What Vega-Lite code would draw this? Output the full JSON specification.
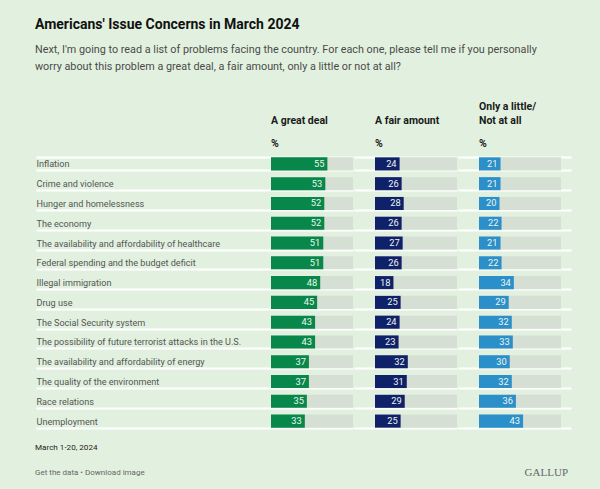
{
  "$schema": "https://vega.github.io/schema/vega-lite/v6.json",
  "background": "#e2f1df",
  "padding": {"top": 17, "left": 35, "right": 32, "bottom": 12},
  "config": {
    "view": {"stroke": null},
    "font": "Roboto"
  },
  "title": {
    "text": "Americans' Issue Concerns in March 2024",
    "subtitle": ["Next, I'm going to read a list of problems facing the country. For each one, please tell me if you personally", "worry about this problem a great deal, a fair amount, only a little or not at all?"],
    "anchor": "start",
    "fontSize": 14,
    "fontWeight": "bold",
    "color": "#111111",
    "subtitleFontSize": 10.8,
    "subtitleColor": "#4a4a4a",
    "subtitleLineHeight": 17,
    "subtitlePadding": 12,
    "offset": 30.5
  },
  "datasets": {
    "issues": [
      {"issue": "Inflation", "great": 55, "fair": 24, "little": 21},
      {"issue": "Crime and violence", "great": 53, "fair": 26, "little": 21},
      {"issue": "Hunger and homelessness", "great": 52, "fair": 28, "little": 20},
      {"issue": "The economy", "great": 52, "fair": 26, "little": 22},
      {"issue": "The availability and affordability of healthcare", "great": 51, "fair": 27, "little": 21},
      {"issue": "Federal spending and the budget deficit", "great": 51, "fair": 26, "little": 22},
      {"issue": "Illegal immigration", "great": 48, "fair": 18, "little": 34},
      {"issue": "Drug use", "great": 45, "fair": 25, "little": 29},
      {"issue": "The Social Security system", "great": 43, "fair": 24, "little": 32},
      {"issue": "The possibility of future terrorist attacks in the U.S.", "great": 43, "fair": 23, "little": 33},
      {"issue": "The availability and affordability of energy", "great": 37, "fair": 32, "little": 30},
      {"issue": "The quality of the environment", "great": 37, "fair": 31, "little": 32},
      {"issue": "Race relations", "great": 35, "fair": 29, "little": 36},
      {"issue": "Unemployment", "great": 33, "fair": 25, "little": 43}
    ]
  },
  "vconcat": [
    {
      "spacing": 0,
      "title": {"text": "March 1-20, 2024", "subtitle": "Get the data • Download image", "orient": "bottom", "anchor": "start", "frame": "bounds", "fontSize": 8.1, "fontWeight": "normal", "color": "#222222", "subtitleFontSize": 8, "subtitleColor": "#666666", "subtitlePadding": 17.2, "offset": -33},
      "hconcat": [
        {
          "width": 82,
          "height": 277,
          "data": {"name": "issues"},
          "title": {"text": "A great deal", "subtitle": "%", "anchor": "start", "frame": "group", "fontSize": 10.5, "fontWeight": "bold", "color": "#1a1a1a", "lineHeight": 13.5, "subtitleFontSize": 10.5, "subtitleFontWeight": "bold", "subtitleColor": "#1a1a1a", "subtitlePadding": 12.7, "offset": 0.6},
          "encoding": {
            "y": {
              "field": "issue", "type": "nominal", "sort": null,
              "scale": {"paddingInner": 0.34, "paddingOuter": 0.17},
              "axis": {"title": null, "domain": false, "ticks": true, "tickBand": "extent", "tickSize": 235, "tickColor": "white", "tickWidth": 2, "grid": true, "gridColor": "white", "gridWidth": 2, "labelAlign": "left", "labelPadding": 0, "labelLimit": 232, "labelFontSize": 9.1, "labelColor": "#555555"}
            }
          },
          "layer": [
            {"mark": {"type": "bar", "color": "#d5dfd3"}},
            {"mark": {"type": "bar", "color": "#07884a"}, "encoding": {"x": {"field": "great", "type": "quantitative", "scale": {"domain": [0, 75]}, "axis": null}}},
            {"mark": {"type": "text", "align": "right", "dx": -3, "color": "#eef5ee", "fontSize": 9.3}, "encoding": {"x": {"field": "great", "type": "quantitative"}, "text": {"field": "great"}}}
          ]
        },
        {
          "width": 82,
          "height": 277,
          "data": {"name": "issues"},
          "title": {"text": "A fair amount", "subtitle": "%", "anchor": "start", "frame": "group", "fontSize": 10.5, "fontWeight": "bold", "color": "#1a1a1a", "lineHeight": 13.5, "subtitleFontSize": 10.5, "subtitleFontWeight": "bold", "subtitleColor": "#1a1a1a", "subtitlePadding": 12.7, "offset": 4.6},
          "encoding": {
            "y": {
              "field": "issue", "type": "nominal", "sort": null,
              "scale": {"paddingInner": 0.34, "paddingOuter": 0.17},
              "axis": {"title": null, "domain": false, "labels": false, "ticks": true, "tickBand": "extent", "tickSize": 21, "tickColor": "white", "tickWidth": 2, "grid": true, "gridColor": "white", "gridWidth": 2}
            }
          },
          "layer": [
            {"mark": {"type": "bar", "color": "#d5dfd3"}},
            {"mark": {"type": "bar", "color": "#0f2169"}, "encoding": {"x": {"field": "fair", "type": "quantitative", "scale": {"domain": [0, 75]}, "axis": null}}},
            {"mark": {"type": "text", "align": "right", "dx": -3, "color": "#eef5ee", "fontSize": 9.3}, "encoding": {"x": {"field": "fair", "type": "quantitative"}, "text": {"field": "fair"}}}
          ]
        },
        {
          "width": 82,
          "height": 277,
          "data": {"name": "issues"},
          "title": {"text": ["Only a little/", "Not at all"], "subtitle": "%", "anchor": "start", "frame": "group", "fontSize": 10.5, "fontWeight": "bold", "color": "#1a1a1a", "lineHeight": 13.5, "subtitleFontSize": 10.5, "subtitleFontWeight": "bold", "subtitleColor": "#1a1a1a", "subtitlePadding": 12.7, "offset": 4.6},
          "resolve": {"axis": {"y": "independent"}},
          "layer": [
            {
              "mark": {"type": "bar", "color": "#d5dfd3"},
              "encoding": {
                "y": {
                  "field": "issue", "type": "nominal", "sort": null,
                  "scale": {"paddingInner": 0.34, "paddingOuter": 0.17},
                  "axis": {"title": null, "orient": "left", "domain": false, "labels": false, "ticks": true, "tickBand": "extent", "tickSize": 21, "tickColor": "white", "tickWidth": 2, "grid": true, "gridColor": "white", "gridWidth": 2}
                }
              }
            },
            {
              "mark": {"type": "bar", "color": "#2b8fca"},
              "encoding": {
                "y": {
                  "field": "issue", "type": "nominal", "sort": null,
                  "axis": {"title": null, "orient": "right", "domain": false, "labels": false, "ticks": true, "tickBand": "extent", "tickSize": 10, "tickColor": "white", "tickWidth": 2, "grid": false}
                },
                "x": {"field": "little", "type": "quantitative", "scale": {"domain": [0, 75]}, "axis": {"orient": "bottom", "title": "GALLUP", "domain": false, "ticks": false, "labels": false, "grid": false, "titleFont": "Liberation Serif", "titleFontSize": 11, "titleFontWeight": "normal", "titleColor": "#666666", "titleAlign": "right", "titleAnchor": "end", "titleX": 88.5, "titlePadding": 35}}
              }
            },
            {
              "mark": {"type": "text", "align": "right", "dx": -3, "color": "#eef5ee", "fontSize": 9.3},
              "encoding": {
                "y": {"field": "issue", "type": "nominal", "sort": null, "axis": null},
                "x": {"field": "little", "type": "quantitative", "axis": {"orient": "bottom", "title": "GALLUP", "domain": false, "ticks": false, "labels": false, "grid": false, "titleFont": "Liberation Serif", "titleFontSize": 11, "titleFontWeight": "normal", "titleColor": "#666666", "titleAlign": "right", "titleAnchor": "end", "titleX": 88.5, "titlePadding": 35}},
                "text": {"field": "little"}
              }
            }
          ]
        }
      ]
    }
  ]
}
